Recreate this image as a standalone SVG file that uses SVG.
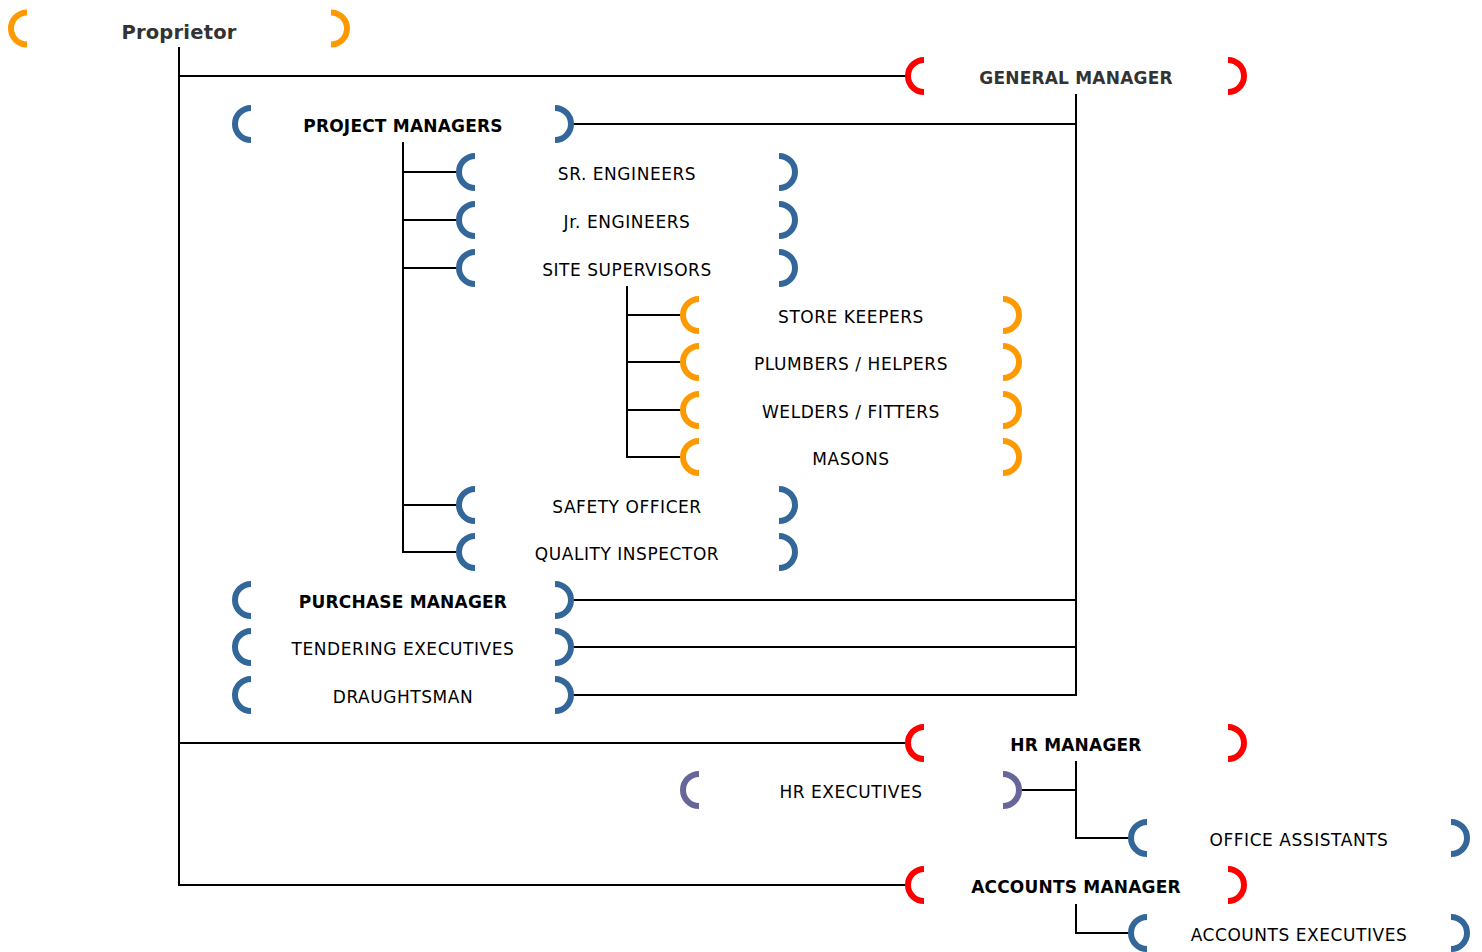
<svg xmlns="http://www.w3.org/2000/svg" width="1482" height="952" viewBox="0 0 1482 952">
<defs>
<style>
.br{fill:none;stroke-width:6}
.o{stroke:#FF9900}.r{stroke:#FF0000}.b{stroke:#336699}.p{stroke:#666699}
text{font-family:"DejaVu Sans","Verdana",sans-serif;font-size:17px;letter-spacing:0.55px;fill:#000;text-anchor:middle}
.bold{font-weight:bold;letter-spacing:0.2px}
.gray{fill:#333333}
.big{font-size:19.5px}
.c line{stroke:#000;stroke-width:2}
</style>
</defs>
<rect width="1482" height="952" fill="#fff"/>
<g class="c" id="connectors">
<line x1="179" y1="47" x2="179" y2="886"/>
<line x1="178" y1="76" x2="907" y2="76"/>
<line x1="178" y1="743" x2="907" y2="743"/>
<line x1="178" y1="885" x2="907" y2="885"/>
<line x1="1076" y1="94" x2="1076" y2="696"/>
<line x1="573" y1="124" x2="1077" y2="124"/>
<line x1="573" y1="600" x2="1077" y2="600"/>
<line x1="573" y1="647" x2="1077" y2="647"/>
<line x1="573" y1="695" x2="1077" y2="695"/>
<line x1="403" y1="142" x2="403" y2="553"/>
<line x1="402" y1="172" x2="459" y2="172"/>
<line x1="402" y1="220" x2="459" y2="220"/>
<line x1="402" y1="268" x2="459" y2="268"/>
<line x1="402" y1="505" x2="459" y2="505"/>
<line x1="402" y1="552" x2="459" y2="552"/>
<line x1="627" y1="286" x2="627" y2="458"/>
<line x1="626" y1="315" x2="683" y2="315"/>
<line x1="626" y1="362" x2="683" y2="362"/>
<line x1="626" y1="410" x2="683" y2="410"/>
<line x1="626" y1="457" x2="683" y2="457"/>
<line x1="1076" y1="761" x2="1076" y2="839"/>
<line x1="1020" y1="790" x2="1077" y2="790"/>
<line x1="1075" y1="838" x2="1131" y2="838"/>
<line x1="1076" y1="904" x2="1076" y2="934"/>
<line x1="1075" y1="933" x2="1131" y2="933"/>
</g>
<g id="n-proprietor"><path class="br o" d="M27 12.5A16 16 0 0 0 27 44.5M331 12.5A16 16 0 0 1 331 44.5"/><text x="179" y="39" class="bold gray big">Proprietor</text></g>
<g id="n-gm"><path class="br r" d="M924 60A16 16 0 0 0 924 92M1228 60A16 16 0 0 1 1228 92"/><text x="1076" y="84" class="bold gray">GENERAL MANAGER</text></g>
<g id="n-pm"><path class="br b" d="M251 108A16 16 0 0 0 251 140M555 108A16 16 0 0 1 555 140"/><text x="403" y="132" class="bold">PROJECT MANAGERS</text></g>
<g id="n-sr"><path class="br b" d="M475 156A16 16 0 0 0 475 188M779 156A16 16 0 0 1 779 188"/><text x="627" y="180">SR. ENGINEERS</text></g>
<g id="n-jr"><path class="br b" d="M475 204A16 16 0 0 0 475 236M779 204A16 16 0 0 1 779 236"/><text x="627" y="228">Jr. ENGINEERS</text></g>
<g id="n-site"><path class="br b" d="M475 252A16 16 0 0 0 475 284M779 252A16 16 0 0 1 779 284"/><text x="627" y="276">SITE SUPERVISORS</text></g>
<g id="n-store"><path class="br o" d="M699 299A16 16 0 0 0 699 331M1003 299A16 16 0 0 1 1003 331"/><text x="851" y="323">STORE KEEPERS</text></g>
<g id="n-plumbers"><path class="br o" d="M699 346A16 16 0 0 0 699 378M1003 346A16 16 0 0 1 1003 378"/><text x="851" y="370">PLUMBERS / HELPERS</text></g>
<g id="n-welders"><path class="br o" d="M699 394A16 16 0 0 0 699 426M1003 394A16 16 0 0 1 1003 426"/><text x="851" y="418">WELDERS / FITTERS</text></g>
<g id="n-masons"><path class="br o" d="M699 441A16 16 0 0 0 699 473M1003 441A16 16 0 0 1 1003 473"/><text x="851" y="465">MASONS</text></g>
<g id="n-safety"><path class="br b" d="M475 489A16 16 0 0 0 475 521M779 489A16 16 0 0 1 779 521"/><text x="627" y="513">SAFETY OFFICER</text></g>
<g id="n-quality"><path class="br b" d="M475 536A16 16 0 0 0 475 568M779 536A16 16 0 0 1 779 568"/><text x="627" y="560">QUALITY INSPECTOR</text></g>
<g id="n-purchase"><path class="br b" d="M251 584A16 16 0 0 0 251 616M555 584A16 16 0 0 1 555 616"/><text x="403" y="608" class="bold">PURCHASE MANAGER</text></g>
<g id="n-tendering"><path class="br b" d="M251 631A16 16 0 0 0 251 663M555 631A16 16 0 0 1 555 663"/><text x="403" y="655">TENDERING EXECUTIVES</text></g>
<g id="n-draughtsman"><path class="br b" d="M251 679A16 16 0 0 0 251 711M555 679A16 16 0 0 1 555 711"/><text x="403" y="703">DRAUGHTSMAN</text></g>
<g id="n-hrm"><path class="br r" d="M924 727A16 16 0 0 0 924 759M1228 727A16 16 0 0 1 1228 759"/><text x="1076" y="751" class="bold">HR MANAGER</text></g>
<g id="n-hre"><path class="br p" d="M699 774A16 16 0 0 0 699 806M1003 774A16 16 0 0 1 1003 806"/><text x="851" y="798">HR EXECUTIVES</text></g>
<g id="n-office"><path class="br b" d="M1147 822A16 16 0 0 0 1147 854M1451 822A16 16 0 0 1 1451 854"/><text x="1299" y="846">OFFICE ASSISTANTS</text></g>
<g id="n-accm"><path class="br r" d="M924 869A16 16 0 0 0 924 901M1228 869A16 16 0 0 1 1228 901"/><text x="1076" y="893" class="bold">ACCOUNTS MANAGER</text></g>
<g id="n-acce"><path class="br b" d="M1147 917A16 16 0 0 0 1147 949M1451 917A16 16 0 0 1 1451 949"/><text x="1299" y="941">ACCOUNTS EXECUTIVES</text></g>
</svg>
